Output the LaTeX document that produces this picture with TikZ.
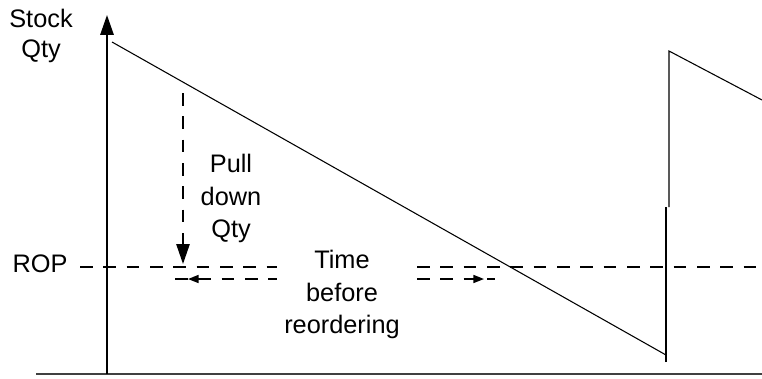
\documentclass[tikz,border=0pt]{standalone}
\usepackage{fontspec}
\setmainfont{Liberation Sans}
\usetikzlibrary{arrows.meta}

\tikzset{
  lbl/.style={font=\fontsize{19}{24.4}\selectfont, inner sep=0pt},
  level/.style={line width=1.2pt, dash pattern=on 9.5pt off 8pt},
  stock/.style={line width=0.8pt},
  bigtip/.style={-{Triangle[length=15pt,width=10pt]}},
  smalltip/.style={-{Triangle[length=8pt,width=6pt]}},
}

\begin{document}
\begin{tikzpicture}[x=0.75pt,y=-0.75pt]
    \useasboundingbox (0,0) rectangle (762,378);
    % axes
    \coordinate (xl) at (36,374);
    \coordinate (xr) at (762,374);
    \coordinate (o) at (107,374);
    \coordinate (ytop) at (107,15);
    \draw[line width=1.8pt, black!75] (xl) -- (xr);
    \draw[line width=1.5pt, bigtip] (o) -- (ytop);
    \node[lbl, anchor=base] (stock) at (41,28) {Stock};
    \node[lbl, anchor=base] (qty) at (41,57) {Qty};
    % stock level
    \coordinate (s0) at (112,42);
    \coordinate (s1) at (666,355);
    \coordinate (s2) at (666,362);
    \coordinate (s3) at (666,207);
    \coordinate (s4) at (669,207);
    \coordinate (s5) at (669,51);
    \coordinate (s6) at (762,100);
    \draw[stock] (s0) -- (s1);
    \draw[stock] (s2) -- (s3);
    \draw[stock] (s4) -- (s5) -- (s6);
    % reorder point
    \node[lbl, anchor=base] (rop) at (40,272) {ROP};
    \coordinate (r0) at (80,267);
    \coordinate (r1) at (277,267);
    \coordinate (r2) at (417,267);
    \coordinate (r3) at (762,267);
    \draw[level] (r0) -- (r1);
    \draw[level] (r2) -- (r3);
    % pull down
    \coordinate (p0) at (183,93);
    \coordinate (p1) at (183,264);
    \draw[level, bigtip] (p0) -- (p1);
    \node[lbl, align=center, anchor=north] (pull) at (231,154) {Pull\\down\\Qty};
    % time before reordering
    \coordinate (t0) at (175,279);
    \coordinate (t1) at (277,279);
    \coordinate (t2) at (417,279);
    \coordinate (t3) at (495,279);
    \draw[level] (t0) -- (t1);
    \draw[level] (t2) -- (t3);
    \coordinate (ta) at (199,279);
    \coordinate (tb) at (188,279);
    \coordinate (tc) at (472,279);
    \coordinate (td) at (484,279);
    \draw[line width=1.2pt, smalltip] (ta) -- (tb);
    \draw[line width=1.2pt, smalltip] (tc) -- (td);
    \node[lbl, align=center, anchor=north] (time) at (342,250) {Time\\before\\reordering};
\end{tikzpicture}
\end{document}
